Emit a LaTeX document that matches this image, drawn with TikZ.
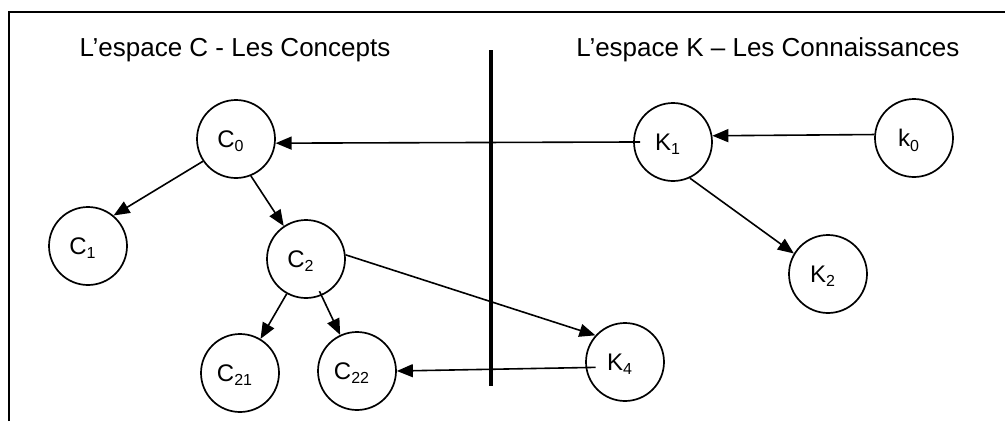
\documentclass[tikz,border=0pt]{standalone}
\usepackage{fontspec}
\setmainfont{Liberation Sans}
\usetikzlibrary{arrows.meta}
\newcommand{\mysub}[1]{\raisebox{-4.5pt}[0pt][0pt]{\fontsize{16}{16}\selectfont #1}}
\begin{document}
\begin{tikzpicture}[x=1pt,y=-1pt,
  state/.style={circle,draw,line width=1.7pt,minimum size=78pt,inner sep=0pt,
    font=\fontsize{24}{24}\selectfont,execute at begin node=\hspace*{-11pt}},
  arr/.style={line width=1.6pt,-{Triangle[length=16pt,width=13pt]}},
  title/.style={font=\fontsize{26}{30}\selectfont,inner sep=0pt},
  frameline/.style={line width=1.8pt},
  bar/.style={line width=4.5pt}]
\useasboundingbox (0,0) rectangle (1005,421);
% frame
\coordinate (tl) at (9,12);
\coordinate (tr) at (1005,12);
\coordinate (bl) at (9,421);
\draw[frameline] (bl) -- (tl) -- (tr);
% titles
\node[title,anchor=base] (tC) at (235,56) {L’espace C - Les Concepts};
\node[title,anchor=base] (tK) at (768,56) {L’espace K – Les Connaissances};
% separator
\coordinate (bt) at (491,50);
\coordinate (bb) at (491,386);
\draw[bar] (bt) -- (bb);
% nodes
\node[state] (C0) at (236,139) {C\mysub{0}};
\node[state] (C1) at (88,246) {C\mysub{1}};
\node[state] (C2) at (306,259) {C\mysub{2}};
\node[state] (C21) at (240,373) {C\mysub{21}};
\node[state] (C22) at (357,371) {C\mysub{22}};
\node[state] (K1) at (673,142) {K\mysub{1}};
\node[state] (k0) at (914,138) {k\mysub{0}};
\node[state] (K2) at (828,274) {K\mysub{2}};
\node[state] (K4) at (625,362) {K\mysub{4}};
% arrows
\draw[arr] (C0.214) -- (C1.50);
\draw[arr] (C0.292) -- (C2.124);
\draw[arr] (C2.241) -- (C21.59);
\draw[arr,shorten <=-5pt] (C2.293) -- (C22.115);
\draw[arr] (C2.6) -- (K4.138);
\draw[arr,shorten <=-10pt] (K4.188) -- (C22.east);
\draw[arr,shorten <=-7pt] (K1.west) -- (C0.354);
\draw[arr] (k0.175) -- (K1.9);
\draw[arr] (K1.295) -- (K2.149);
\end{tikzpicture}
\end{document}
